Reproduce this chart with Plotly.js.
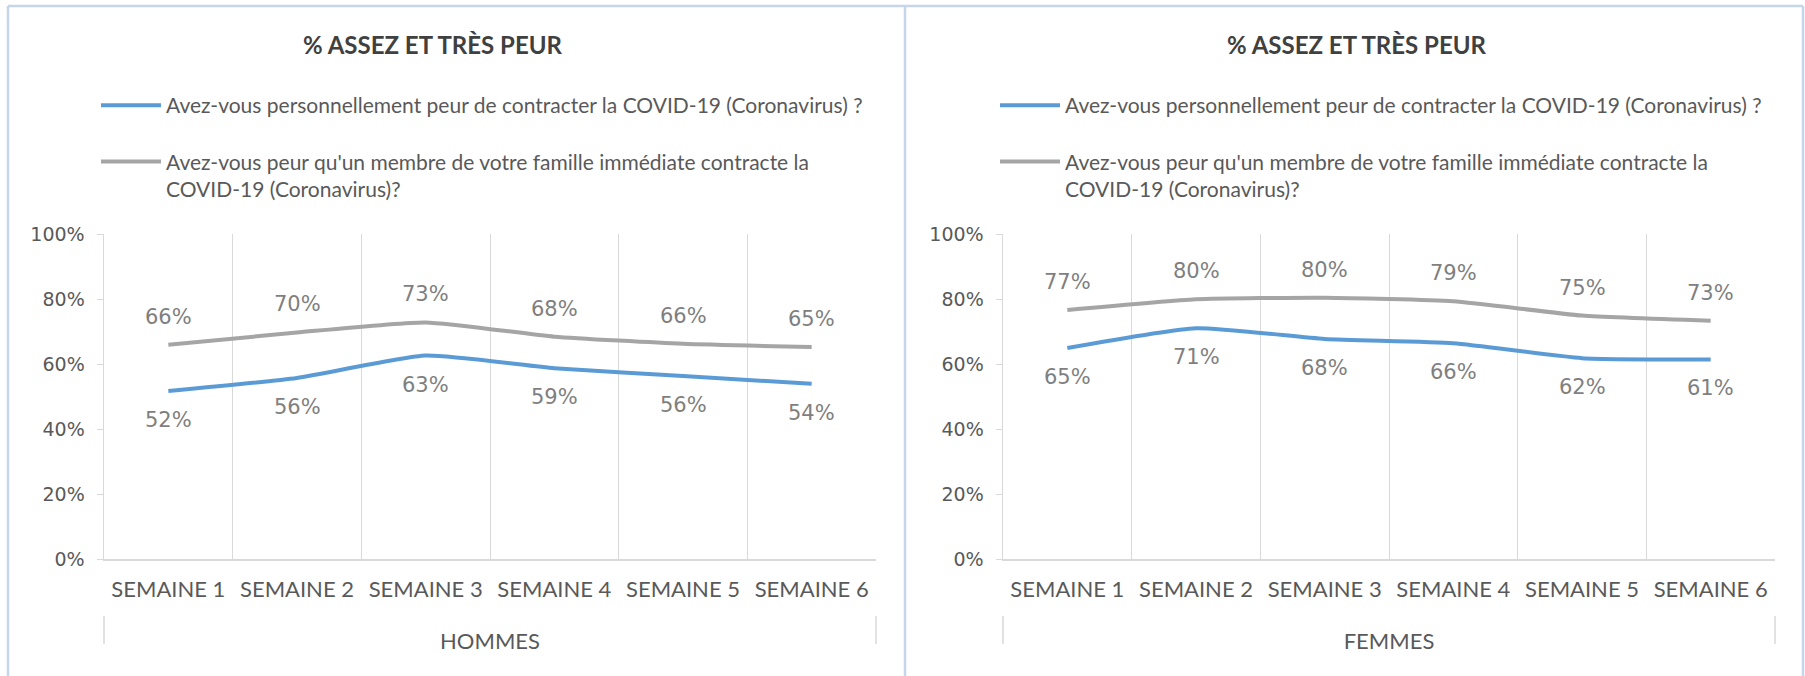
<!DOCTYPE html>
<html>
<head>
<meta charset="utf-8">
<script src="https://cdn.plot.ly/plotly-3.0.1.min.js"></script>
<style>html,body{margin:0;padding:0;background:#fff;}#chart{width:1805px;height:676px;}</style>
</head>
<body>
<div id="chart"></div>
<script>
// ---- Data ----
const categories = ['SEMAINE 1', 'SEMAINE 2', 'SEMAINE 3', 'SEMAINE 4', 'SEMAINE 5', 'SEMAINE 6'];
const hommesPersonnel = [51.7, 55.7, 62.6, 58.7, 56.3, 53.9];
const hommesFamille   = [65.9, 69.7, 72.8, 68.4, 66.2, 65.2];
const femmesPersonnel = [64.9, 71.0, 67.7, 66.4, 61.8, 61.4];
const femmesFamille   = [76.6, 79.9, 80.4, 79.3, 74.9, 73.3];
const seriesNames = [
  'Avez-vous personnellement peur de contracter la COVID-19 (Coronavirus) ?',
  "Avez-vous peur qu'un membre de votre famille immédiate contracte la<br>COVID-19 (Coronavirus)?"
];
const groupLabels = ['HOMMES', 'FEMMES'];
const panelTitle = '% ASSEZ ET TRÈS PEUR';
const yTicks = [0, 20, 40, 60, 80, 100];
const yTickLabels = ['0%', '20%', '40%', '60%', '80%', '100%'];

// ---- Styles ----
const BLUE = '#5b9bd5', GRAY = '#a5a5a5';
const TXT = '#595959', LBL = '#7f7f7f', GRID = '#d9d9d9', BORDER = '#c6d6ea';
const W = 1805, H = 676;
const px = v => v / W, py = v => 1 - v / H;

function lineTrace(y, name, color, xa, ya, legend, group) {
  return {
    type: 'scatter', mode: 'lines', x: categories, y: y, name: name,
    xaxis: xa, yaxis: ya, legend: legend, legendgroup: group,
    line: {color: color, width: 4, shape: 'spline', smoothing: 0.5},
    hoverinfo: 'skip'
  };
}

const data = [
  lineTrace(hommesPersonnel, seriesNames[0], BLUE, 'x', 'y', 'legend', 'a'),
  lineTrace(hommesFamille, seriesNames[1], GRAY, 'x', 'y', 'legend', 'b'),
  lineTrace(femmesPersonnel, seriesNames[0], BLUE, 'x2', 'y2', 'legend2', 'c'),
  lineTrace(femmesFamille, seriesNames[1], GRAY, 'x2', 'y2', 'legend2', 'd')
];

const annotations = [];
function addLabels(vals, xref, yref, shift) {
  vals.forEach((v, i) => annotations.push({
    x: categories[i], y: v, xref: xref, yref: yref, text: Math.round(v) + '%',
    showarrow: false, yshift: shift, xanchor: 'center', yanchor: 'middle',
    font: {family: 'DejaVu Sans', size: 21, color: LBL}
  }));
}
addLabels(hommesPersonnel, 'x', 'y', -29);
addLabels(hommesFamille, 'x', 'y', 28);
addLabels(femmesPersonnel, 'x2', 'y2', -29);
addLabels(femmesFamille, 'x2', 'y2', 28);

[[433, panelTitle], [1357, panelTitle]].forEach(([cx, t]) => annotations.push({
  x: px(cx), y: py(45), xref: 'paper', yref: 'paper', text: '<b>' + t + '</b>',
  showarrow: false, xanchor: 'center', yanchor: 'middle',
  font: {family: 'Lato', size: 24, color: '#404040'}
}));

function xAxis(domain, title) {
  return {
    domain: domain, type: 'category', tickson: 'boundaries', range: [-0.5, categories.length - 0.5],
    showgrid: true, gridcolor: GRID, gridwidth: 1,
    showline: true, linecolor: GRID, linewidth: 1.5, ticks: '',
    zeroline: false, fixedrange: true,
    tickfont: {family: 'Lato', size: 22, color: TXT}, ticklabelstandoff: 10,
    title: {text: title, font: {family: 'Lato', size: 22, color: TXT}, standoff: 32}
  };
}
function yAxis(anchor) {
  return {
    domain: [py(559), py(234)], anchor: anchor, range: [0, 100],
    tickmode: 'array', tickvals: yTicks, ticktext: yTickLabels, showgrid: false, zeroline: false,
    showline: true, linecolor: GRID, linewidth: 1.5,
    ticks: 'outside', ticklen: 6, tickcolor: GRID, ticklabelstandoff: 8,
    tickfont: {family: 'DejaVu Sans', size: 19, color: TXT}, fixedrange: true
  };
}

function legendCfg(x) {
  return {
    x: px(x), y: py(85), xanchor: 'left', yanchor: 'top',
    bgcolor: 'rgba(0,0,0,0)', borderwidth: 0, valign: 'top',
    traceorder: 'grouped', tracegroupgap: 26, itemwidth: 60,
    font: {family: 'Lato', size: 21, color: TXT}
  };
}

const shapes = [
  // panel frames
  {type: 'line', xref: 'paper', yref: 'paper', x0: px(8), x1: px(1803), y0: py(6), y1: py(6), line: {color: BORDER, width: 2.5}},
  {type: 'line', xref: 'paper', yref: 'paper', x0: px(8), x1: px(8), y0: py(6), y1: 0, line: {color: BORDER, width: 2.5}},
  {type: 'line', xref: 'paper', yref: 'paper', x0: px(905), x1: px(905), y0: py(6), y1: 0, line: {color: BORDER, width: 2.5}},
  {type: 'line', xref: 'paper', yref: 'paper', x0: px(1803), x1: px(1803), y0: py(6), y1: 0, line: {color: BORDER, width: 2.5}}
];
['x', 'x2'].forEach(xa => [0, 1].forEach(e => shapes.push({
  type: 'line', xref: xa + ' domain', yref: 'paper', x0: e, x1: e, y0: py(616), y1: py(644),
  line: {color: GRID, width: 1.5}
})));

const layout = {
  width: W, height: H, margin: {l: 0, r: 0, t: 0, b: 0},
  paper_bgcolor: '#fff', plot_bgcolor: '#fff', showlegend: true,
  xaxis: xAxis([px(104), px(876)], groupLabels[0]),
  yaxis: yAxis('x'),
  xaxis2: Object.assign(xAxis([px(1003), px(1775)], groupLabels[1]), {anchor: 'y2'}),
  yaxis2: yAxis('x2'),
  legend: legendCfg(96),
  legend2: legendCfg(995),
  annotations: annotations, shapes: shapes
};
layout.xaxis.anchor = 'y';

Plotly.newPlot('chart', data, layout, {displayModeBar: false, staticPlot: true});
</script>
</body>
</html>
